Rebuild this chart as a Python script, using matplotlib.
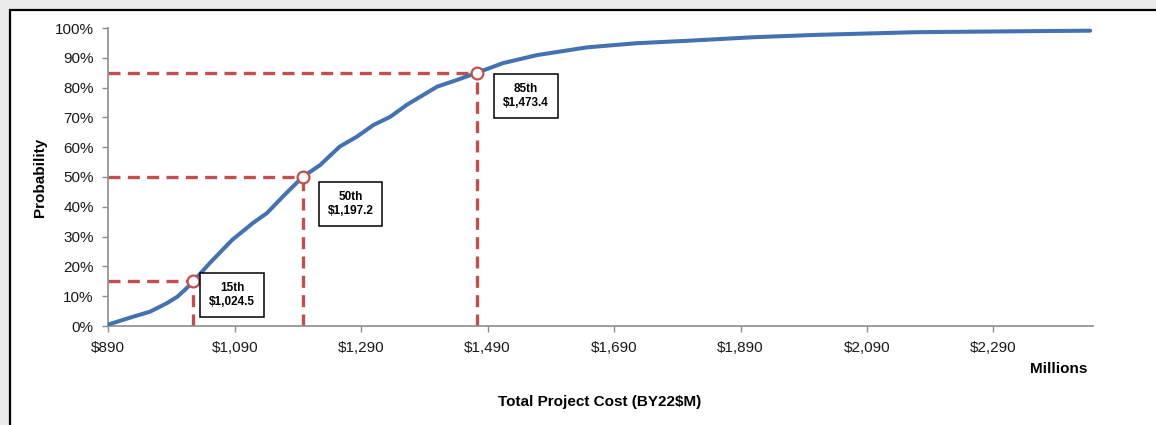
import matplotlib
matplotlib.use("Agg")
import matplotlib.pyplot as plt
from matplotlib.patches import Rectangle
from matplotlib.ticker import FuncFormatter, FixedLocator

plt.rcParams['font.family'] = ['Liberation Sans', 'DejaVu Sans']

# Cumulative distribution (cost in $M, probability in %)
cost = [890, 929, 956, 983, 999, 1011, 1024.5, 1050, 1086, 1119, 1141, 1166,
        1197.2, 1225, 1256, 1283, 1309, 1336, 1362, 1388, 1410, 1442, 1473.4,
        1514, 1568, 1647, 1726, 1805, 1910, 2011, 2169, 2327, 2443]
prob = [0.5, 3.1, 4.8, 7.7, 9.8, 12.1, 15, 21, 28.9, 34.6, 37.9, 43.4,
        50, 54, 60.2, 63.5, 67.4, 70.2, 74.2, 77.5, 80.3, 82.6, 85,
        88.2, 90.9, 93.5, 94.9, 95.7, 96.9, 97.7, 98.6, 98.9, 99.1]

pct_labels = ["15th", "50th", "85th"]
pct_prob = [15, 50, 85]
pct_cost = [1024.5, 1197.2, 1473.4]
label_offsets = [(39, -14), (48, -27), (49, -23)]  # pixels

xticks = [890, 1090, 1290, 1490, 1690, 1890, 2090, 2290]
yticks = [0, 10, 20, 30, 40, 50, 60, 70, 80, 90, 100]

W, H = 1156, 425
fig = plt.figure(figsize=(W / 100, H / 100), dpi=100, facecolor='#ebebeb')
frame = Rectangle((9.5 / W, -0.1), 1.2, 1 - 9.5 / H + 0.1,
                  transform=fig.transFigure, facecolor='white',
                  edgecolor='black', lw=1.6, zorder=-10)
fig.patches.append(frame)

ax = fig.add_axes([108.3 / W, 1 - 326 / H, (1093.3 - 108.3) / W, (326 - 28) / H])
ax.set_zorder(5)
ax.set_facecolor('none')

red = '#C0504D'
blue = '#4472B0'

ax.plot(cost, prob, color=blue, lw=2.9, solid_capstyle='round', zorder=3)

for c, p in zip(pct_cost, pct_prob):
    ax.plot([890, c], [p, p], color=red, lw=2.4, dashes=(3.6, 2.2), zorder=2)
    ax.plot([c, c], [0, p], color=red, lw=2.4, dashes=(3.6, 2.2), zorder=2)
    ax.plot([c], [p], marker='o', ms=8.5, mfc='white', mec=red, mew=1.6, zorder=4)

for lab, c, p, off in zip(pct_labels, pct_cost, pct_prob, label_offsets):
    ax.annotate(f"{lab}\n${c:,.1f}", xy=(c, p), xytext=off,
                textcoords='offset pixels', ha='center', va='center',
                fontsize=8.5, fontweight='bold', linespacing=1.25,
                bbox=dict(boxstyle='square,pad=0.75', fc='white', ec='black', lw=1.1),
                zorder=5)

ax.set_xlim(890, 2448)
ax.set_ylim(0, 100)
ax.xaxis.set_major_locator(FixedLocator(xticks))
ax.yaxis.set_major_locator(FixedLocator(yticks))
ax.xaxis.set_major_formatter(FuncFormatter(lambda v, _: f"${v:,.0f}"))
ax.yaxis.set_major_formatter(FuncFormatter(lambda v, _: f"{v:.0f}%"))

for s in ['top', 'right']:
    ax.spines[s].set_visible(False)
for s in ['left', 'bottom']:
    ax.spines[s].set_color('#8c8c8c')
    ax.spines[s].set_linewidth(1.2)
ax.tick_params(axis='both', direction='out', length=4, width=1, color='#8c8c8c',
               labelsize=11, labelcolor='#1a1a1a', pad=6.5)

fig.text(40 / W, 1 - 177 / H, "Probability", rotation=90, ha='center', va='center',
         fontsize=11, fontweight='bold')
fig.text(600 / W, 1 - 402 / H, "Total Project Cost (BY22$M)", ha='center', va='center',
         fontsize=11, fontweight='bold')
fig.text(1087 / W, 1 - 369 / H, "Millions", ha='right', va='center',
         fontsize=11, fontweight='bold')

fig.savefig("out.png", dpi=100, facecolor=fig.get_facecolor())
